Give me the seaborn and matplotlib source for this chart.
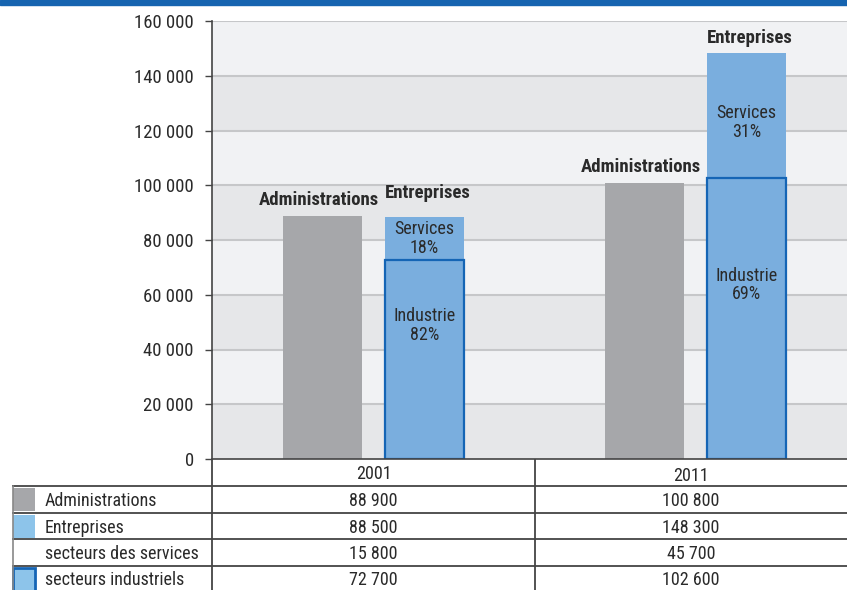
import matplotlib
matplotlib.use("Agg")
import matplotlib.pyplot as plt
from matplotlib import font_manager
from matplotlib.patches import Rectangle
import pandas as pd
import seaborn as sns

# Data
years = ["2001", "2011"]
administrations = [88900, 100800]
entreprises = [88500, 148300]
services = [15800, 45700]
industrie = [72700, 102600]
services_pct = [18, 31]
industrie_pct = [82, 69]
yticks = [0, 20000, 40000, 60000, 80000, 100000, 120000, 140000, 160000]
row_labels = ["Administrations", "Entreprises", "secteurs des services", "secteurs industriels"]

GRAY = "#a6a7aa"
BLUE = "#7aaede"
EDGE = "#1565b5"
SWATCH_BLUE = "#8dc4ea"
BAND_DARK = "#e6e7e9"
BAND_LIGHT = "#f1f2f4"
GRID = "#c6c7c9"
TXT = "#2a2a2a"
LINE = "#444444"

sns.set_theme(style="white")

# pick a narrow face if one is available
names = {f.name for f in font_manager.fontManager.ttflist}
families = [n for n in ["Roboto Condensed", "Liberation Sans Narrow", "DejaVu Sans"] if n in names]
plt.rcParams["font.family"] = families + ["DejaVu Sans"]
plt.rcParams["font.stretch"] = "condensed"
plt.rcParams["text.color"] = TXT

W, H = 847, 590
fig = plt.figure(figsize=(W / 100, H / 100), dpi=100)
fig.patch.set_facecolor("white")

# top rule
fig.patches.append(Rectangle((0, 1 - 5 / H), 1, 5 / H, transform=fig.transFigure,
                             color="#1664b0", zorder=5))

ax = fig.add_axes([212 / W, 131 / H, 635 / W, 438 / H])
ax.set_ylim(0, 160000)

# alternating background bands and grid lines
for i in range(len(yticks) - 1):
    ax.axhspan(yticks[i], yticks[i + 1], color=BAND_DARK if i % 2 == 0 else BAND_LIGHT,
               zorder=0, lw=0)
for t in yticks[1:]:
    ax.axhline(t, color=GRID, lw=1.5, zorder=0.5)

df = pd.DataFrame({
    "year": years * 2,
    "kind": ["Administrations"] * 2 + ["Entreprises"] * 2,
    "value": administrations + entreprises,
})
hue_order = ["Administrations", "Entreprises"]
pal = {"Administrations": GRAY, "Entreprises": BLUE}
sns.barplot(data=df, x="year", y="value", hue="kind", hue_order=hue_order,
            palette=pal, width=0.634, gap=0.227, dodge=True, errorbar=None,
            saturation=1, legend=False, ax=ax, linewidth=0, zorder=2)

df_ind = pd.DataFrame({"year": years, "kind": ["Entreprises"] * 2, "value": industrie})
sns.barplot(data=df_ind, x="year", y="value", hue="kind", hue_order=hue_order,
            palette=pal, width=0.634, gap=0.227, dodge=True, errorbar=None,
            saturation=1, legend=False, ax=ax, edgecolor=EDGE, linewidth=1.6, zorder=3)

ax.set_xlim(-0.5016, 1.4705)
ax.set_ylim(0, 160000)

adm_bars = ax.containers[0]
ent_bars = ax.containers[1]
ent_offsets = [15, 6]
ind_frac = [0.67, 0.62]
svc_shift = [0, -2500]
for i in range(len(years)):
    xa = adm_bars[i].get_x() + adm_bars[i].get_width() / 2
    xe = ent_bars[i].get_x() + ent_bars[i].get_width() / 2
    ax.annotate("Administrations", (xa, administrations[i]), xytext=(-4, 7),
                textcoords="offset pixels", ha="center", va="bottom",
                fontsize=13.5, fontweight="bold", color=TXT)
    ax.annotate("Entreprises", (xe, entreprises[i]), xytext=(3, ent_offsets[i]),
                textcoords="offset pixels", ha="center", va="bottom",
                fontsize=13.5, fontweight="bold", color=TXT)
    ax.text(xe, industrie[i] + services[i] / 2 + svc_shift[i], f"Services\n{services_pct[i]}%",
            ha="center", va="center", fontsize=13, linespacing=1.05, color=TXT, zorder=4)
    ax.text(xe, industrie[i] * ind_frac[i], f"Industrie\n{industrie_pct[i]}%",
            ha="center", va="center", fontsize=13, linespacing=1.05, color=TXT, zorder=4)

ax.set_yticks(yticks)
ax.set_yticklabels([f"{t:,}".replace(",", " ") for t in yticks], fontsize=13.5, color=TXT)
ax.set_xticks([])
ax.set_xlabel("")
ax.set_ylabel("")
ax.tick_params(axis="y", direction="out", length=5, width=1, color=LINE, pad=8, left=True)
for s in ["top", "right"]:
    ax.spines[s].set_visible(False)
for s in ["left", "bottom"]:
    ax.spines[s].set_color(LINE)
    ax.spines[s].set_linewidth(1.2)
    ax.spines[s].set_zorder(5)

# data table under the chart
tab = fig.add_axes([0, 0, 1, 131 / H])
tab.set_xlim(0, W)
tab.set_ylim(131, 0)
tab.axis("off")

col_x = [373.5, 691]
row_edges = [27, 54, 80, 107]
row_mid = [42, 69, 95, 121]
table_values = [administrations, entreprises, services, industrie]

for j, y in enumerate(years):
    tab.text(col_x[j], 15 + 2 * j, y, ha="center", va="center", fontsize=13, color=TXT)

for r, yb in enumerate(row_edges):
    tab.plot([12, W], [yb, yb], color=LINE, lw=1.3, solid_capstyle="butt")
tab.plot([212, 212], [0, 131], color=LINE, lw=1.3)
tab.plot([535, 535], [0, 131], color=LINE, lw=1.3)
tab.plot([12.5, 12.5], [27, 131], color="#888888", lw=1.2)

swatches = [dict(fc=GRAY, ec="none"), dict(fc=SWATCH_BLUE, ec="none"), None,
            dict(fc=SWATCH_BLUE, ec=EDGE, lw=2)]
for r, label in enumerate(row_labels):
    if swatches[r] is not None:
        tab.add_patch(Rectangle((13, row_edges[r] + 1.5), 22, 23.5, **swatches[r]))
    tab.text(45, row_mid[r], label, ha="left", va="center", fontsize=13, color=TXT)
    for j in range(len(years)):
        tab.text(col_x[j], row_mid[r], f"{table_values[r][j]:,}".replace(",", " "),
                 ha="center", va="center", fontsize=13, color=TXT)

fig.savefig("out.png", dpi=100)
